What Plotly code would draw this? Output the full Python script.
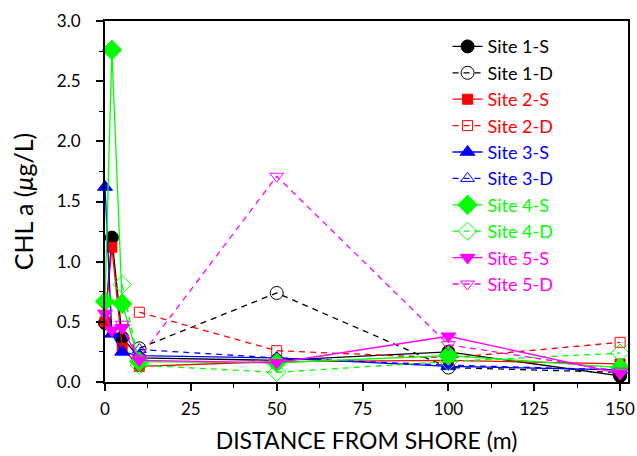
import plotly.graph_objects as go

# Distances from shore (m)
dist_s = [0, 2, 5, 10, 50, 100, 150]
site1_s = [0.49, 1.20, 0.37, 0.20, 0.18, 0.25, 0.05]
site2_s = [0.50, 1.12, 0.28, 0.13, 0.17, 0.18, 0.15]
site3_s = [1.62, 0.40, 0.25, 0.22, 0.20, 0.13, 0.10]
site4_s = [0.67, 2.76, 0.65, 0.17, 0.16, 0.22, 0.12]
site5_s = [0.57, 0.43, 0.45, 0.18, 0.16, 0.38, 0.07]

dist_d1 = [10, 50, 100, 150]
site1_d = [0.28, 0.74, 0.12, 0.08]
dist_d2 = [10, 50, 100, 150]
site2_d = [0.58, 0.26, 0.20, 0.33]
dist_d3 = [10, 50, 100, 150]
site3_d = [0.27, 0.20, 0.14, 0.10]
dist_d4 = [5, 10, 50, 100, 150]
site4_d = [0.81, 0.14, 0.08, 0.17, 0.24]
dist_d5 = [5, 10, 50, 100, 150]
site5_d = [0.48, 0.20, 1.71, 0.31, 0.09]

names = ["Site 1-S", "Site 1-D", "Site 2-S", "Site 2-D", "Site 3-S", "Site 3-D",
         "Site 4-S", "Site 4-D", "Site 5-S", "Site 5-D"]

series = [
    (dist_s, site1_s, "#000000", "circle", 13, "solid"),
    (dist_d1, site1_d, "#000000", "circle-open", 13, "dash"),
    (dist_s, site2_s, "#ff0000", "square", 10, "solid"),
    (dist_d2, site2_d, "#ff0000", "square-open", 10, "dash"),
    (dist_s, site3_s, "#0000ff", "triangle-up", 13, "solid"),
    (dist_d3, site3_d, "#0000ff", "triangle-up-open", 12, "dash"),
    (dist_s, site4_s, "#00ff00", "diamond", 15, "solid"),
    (dist_d4, site4_d, "#00ff00", "diamond-open", 14, "dash"),
    (dist_s, site5_s, "#ff00ff", "triangle-down", 13, "solid"),
    (dist_d5, site5_d, "#ff00ff", "triangle-down-open", 12, "dash"),
]

fig = go.Figure()
for name, (x, y, col, sym, sz, dash) in zip(names, series):
    fig.add_trace(go.Scatter(
        x=x, y=y, mode="lines+markers",
        name=f'<span style="color:{col}">{name}</span>',
        line=dict(color=col, width=1.3, dash="6px,5px" if dash == "dash" else "solid"),
        marker=dict(symbol=sym, size=sz, color=col, line=dict(color=col, width=1)),
        cliponaxis=False,
    ))

font = "Lato, 'Open Sans', sans-serif"
fig.update_layout(
    width=637, height=456,
    margin=dict(l=105, r=9, t=21, b=74),
    paper_bgcolor="white", plot_bgcolor="white",
    font=dict(family=font, size=17, color="black"),
    showlegend=True,
    legend=dict(x=0.655, y=0.98, xanchor="left", yanchor="top",
                bgcolor="rgba(0,0,0,0)", font=dict(size=18, family=font)),
    xaxis=dict(
        range=[0, 152.3], tickvals=[0, 25, 50, 75, 100, 125, 150],
        automargin=False,
        showgrid=False, zeroline=False,
        showline=True, linecolor="black", linewidth=2, mirror=True,
        ticks="outside", ticklen=7, tickwidth=1.5, tickcolor="black",
        ticklabelstandoff=4,
        minor=dict(ticks="outside", ticklen=4, dtick=12.5, tickcolor="black", tickwidth=1),
        title=dict(text="DISTANCE FROM SHORE (m)", font=dict(size=23), standoff=14),
        tickfont=dict(size=17),
    ),
    yaxis=dict(
        range=[0, 3.0], dtick=0.5, tickformat=".1f",
        automargin=False,
        showgrid=False, zeroline=False,
        showline=True, linecolor="black", linewidth=2, mirror=True,
        ticks="outside", ticklen=7, tickwidth=1.5, tickcolor="black",
        ticklabelstandoff=12,
        minor=dict(ticks="outside", ticklen=4, dtick=0.25, tickcolor="black", tickwidth=1),
        title=dict(text="CHL a (<i>μ</i>g/L)", font=dict(size=25), standoff=16),
        tickfont=dict(size=17),
    ),
)

fig.write_html("out.html")
